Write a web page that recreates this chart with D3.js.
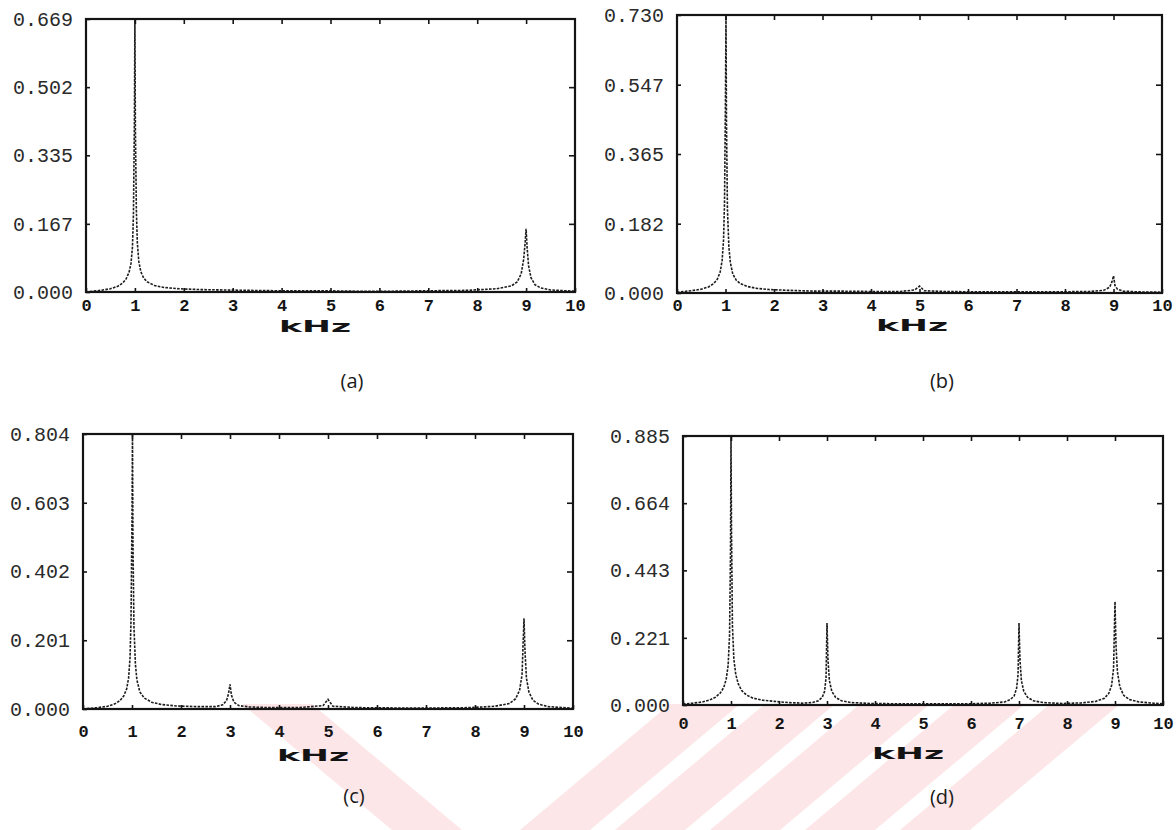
<!DOCTYPE html>
<html>
<head>
<meta charset="utf-8">
<script src="https://cdn.jsdelivr.net/npm/d3@7"></script>
<style>
  html, body { margin: 0; padding: 0; background: #fff; }
  svg { display: block; }
</style>
</head>
<body>
<svg id="fig" width="1176" height="830"></svg>
<script>
// Magnitude spectra of four signals, frequency axis in kHz.
const xTickLabels = ["0", "1", "2", "3", "4", "5", "6", "7", "8", "9", "10"];

// (a)
const yLabelsA = ["0.000", "0.167", "0.335", "0.502", "0.669"];
const freqA = [0.0, 0.3, 0.5, 0.65, 0.75, 0.82, 0.88, 0.92, 0.95, 0.97,
  0.99, 1.0, 1.01, 1.03, 1.05, 1.08, 1.12, 1.18, 1.25, 1.4,
  1.6, 1.9, 2.3, 2.8, 3.3, 4.0, 4.8, 5.5, 6.3, 7.0,
  7.8, 8.4, 8.7, 8.82, 8.9, 8.95, 8.98, 9.0, 9.02, 9.05,
  9.1, 9.18, 9.3, 9.5, 9.8, 10.0];
const ampA = [0.000, 0.004, 0.008, 0.014, 0.022, 0.032, 0.048, 0.070, 0.110, 0.190,
  0.420, 0.669, 0.400, 0.200, 0.120, 0.075, 0.050, 0.034, 0.025, 0.016,
  0.011, 0.008, 0.006, 0.005, 0.004, 0.003, 0.003, 0.002, 0.002, 0.003,
  0.004, 0.008, 0.015, 0.025, 0.045, 0.080, 0.120, 0.155, 0.110, 0.065,
  0.035, 0.018, 0.010, 0.005, 0.003, 0.002];

// (b)
const yLabelsB = ["0.000", "0.182", "0.365", "0.547", "0.730"];
const freqB = [0.0, 0.3, 0.5, 0.65, 0.75, 0.83, 0.89, 0.93, 0.96, 0.98,
  1.0, 1.01, 1.02, 1.04, 1.07, 1.1, 1.15, 1.22, 1.3, 1.45,
  1.65, 1.9, 2.3, 2.8, 3.3, 4.0, 4.6, 4.9, 5.0, 5.1,
  5.5, 6.2, 7.0, 7.8, 8.5, 8.8, 8.92, 8.97, 9.0, 9.03,
  9.08, 9.2, 9.5, 10.0];
const ampB = [0.002, 0.006, 0.010, 0.016, 0.024, 0.036, 0.055, 0.085, 0.140, 0.240,
  0.520, 0.730, 0.450, 0.220, 0.120, 0.080, 0.050, 0.034, 0.025, 0.017,
  0.012, 0.009, 0.007, 0.005, 0.005, 0.004, 0.004, 0.008, 0.018, 0.006,
  0.004, 0.003, 0.003, 0.003, 0.004, 0.007, 0.015, 0.030, 0.045, 0.020,
  0.010, 0.005, 0.003, 0.002];

// (c)
const yLabelsC = ["0.000", "0.201", "0.402", "0.603", "0.804"];
const freqC = [0.0, 0.3, 0.5, 0.65, 0.75, 0.83, 0.89, 0.93, 0.96, 0.98,
  1.0, 1.01, 1.02, 1.04, 1.07, 1.1, 1.16, 1.25, 1.4, 1.6,
  1.9, 2.3, 2.7, 2.85, 2.93, 2.97, 3.0, 3.03, 3.08, 3.18,
  3.4, 3.8, 4.4, 4.9, 5.0, 5.1, 5.6, 6.4, 7.2, 7.9,
  8.4, 8.7, 8.83, 8.91, 8.96, 9.0, 9.02, 9.05, 9.1, 9.18,
  9.3, 9.5, 9.8, 10.0];
const ampC = [0.000, 0.004, 0.008, 0.015, 0.024, 0.038, 0.058, 0.090, 0.150, 0.260,
  0.560, 0.804, 0.480, 0.240, 0.130, 0.085, 0.050, 0.032, 0.020, 0.013,
  0.009, 0.007, 0.007, 0.012, 0.025, 0.045, 0.072, 0.040, 0.020, 0.010,
  0.006, 0.004, 0.004, 0.010, 0.028, 0.008, 0.004, 0.003, 0.003, 0.004,
  0.008, 0.016, 0.030, 0.055, 0.100, 0.265, 0.170, 0.090, 0.050, 0.026,
  0.014, 0.007, 0.004, 0.002];

// (d)
const yLabelsD = ["0.000", "0.221", "0.443", "0.664", "0.885"];
const freqD = [0.0, 0.2, 0.4, 0.55, 0.68, 0.78, 0.85, 0.9, 0.94, 0.97,
  0.99, 1.0, 1.01, 1.03, 1.06, 1.1, 1.15, 1.22, 1.32, 1.45,
  1.65, 1.9, 2.2, 2.5, 2.7, 2.82, 2.9, 2.95, 2.98, 3.0,
  3.02, 3.05, 3.1, 3.18, 3.3, 3.5, 3.9, 4.5, 5.0, 5.5,
  6.0, 6.4, 6.7, 6.82, 6.9, 6.95, 6.98, 7.0, 7.02, 7.05,
  7.1, 7.18, 7.3, 7.5, 7.9, 8.3, 8.6, 8.78, 8.87, 8.93,
  8.97, 9.0, 9.02, 9.05, 9.1, 9.18, 9.3, 9.5, 9.8, 10.0];
const ampD = [0.003, 0.006, 0.010, 0.016, 0.026, 0.040, 0.058, 0.085, 0.130, 0.230,
  0.500, 0.885, 0.580, 0.260, 0.150, 0.100, 0.070, 0.048, 0.033, 0.023,
  0.016, 0.012, 0.008, 0.006, 0.008, 0.014, 0.025, 0.045, 0.090, 0.270,
  0.150, 0.080, 0.045, 0.025, 0.014, 0.008, 0.005, 0.004, 0.004, 0.004,
  0.004, 0.006, 0.010, 0.018, 0.030, 0.055, 0.100, 0.270, 0.150, 0.080,
  0.045, 0.025, 0.014, 0.008, 0.005, 0.007, 0.012, 0.022, 0.038, 0.065,
  0.120, 0.340, 0.200, 0.110, 0.060, 0.032, 0.018, 0.010, 0.006, 0.004];

const unitLabel = "kHz";
const captions = ["(a)", "(b)", "(c)", "(d)"];

// Frame geometry for each of the four plots.
const panels = [
  { freq: freqA, amp: ampA, yLabels: yLabelsA, caption: captions[0],
    x0: 86, x1: 575, y0: 19, y1: 292, xLabY: 305, unitX: 315, unitY: 326, capX: 352, capY: 381 },
  { freq: freqB, amp: ampB, yLabels: yLabelsB, caption: captions[1],
    x0: 677, x1: 1162, y0: 15, y1: 293, xLabY: 305, unitX: 912, unitY: 325, capX: 942, capY: 381 },
  { freq: freqC, amp: ampC, yLabels: yLabelsC, caption: captions[2],
    x0: 83, x1: 573, y0: 434, y1: 709, xLabY: 731, unitX: 313, unitY: 755, capX: 354, capY: 796 },
  { freq: freqD, amp: ampD, yLabels: yLabelsD, caption: captions[3],
    x0: 683, x1: 1163, y0: 436, y1: 705, xLabY: 723, unitX: 908, unitY: 753, capX: 942, capY: 797 }
];

const svg = d3.select("#fig");
const ink = "#141414";
const monoFont = "'Liberation Mono', 'DejaVu Sans Mono', monospace";

// pale paper watermark along the bottom strip
const wm = svg.append("g").attr("fill", "#fce6e8");
const band = (xb, w, rising) => {
  const top = 704, bot = 830, run = 150;
  const xt = rising ? xb + run : xb - run;
  return `M${xb},${bot}L${xb + w},${bot}L${xt + w},${top}L${xt},${top}Z`;
};
wm.append("path").attr("d", band(392, 70, false));
[520, 615, 710, 805, 900].forEach(xb => wm.append("path").attr("d", band(xb, 70, true)));

panels.forEach(p => {
  const yVals = p.yLabels.map(Number);
  const x = d3.scaleLinear().domain([0, 10]).range([p.x0, p.x1]);
  const y = d3.scaleLinear().domain([0, yVals[yVals.length - 1]]).range([p.y1, p.y0]);
  const xVals = xTickLabels.map(Number);

  const g = svg.append("g");

  // spectrum trace, printed as a dotted line
  const line = d3.line().x((d, i) => x(p.freq[i])).y(d => y(d));
  g.append("path")
    .datum(p.amp)
    .attr("d", line)
    .attr("fill", "none")
    .attr("stroke", "#1c1c1c")
    .attr("stroke-width", 1.6)
    .attr("stroke-dasharray", "2.6 1.3");

  // bottom axis: inward ticks and numeric labels
  const bottom = g.append("g")
    .attr("transform", `translate(0,${p.y1})`)
    .call(d3.axisBottom(x).tickValues(xVals).tickSize(-4)
      .tickFormat((d, i) => xTickLabels[i]));
  bottom.selectAll("text")
    .attr("y", p.xLabY - p.y1)
    .attr("dy", "0.35em")
    .attr("font-family", monoFont)
    .attr("font-weight", "bold")
    .attr("font-size", 17)
    .attr("fill", ink);

  // top axis: ticks only
  g.append("g")
    .attr("transform", `translate(0,${p.y0})`)
    .call(d3.axisTop(x).tickValues(xVals.slice(1, -1)).tickSize(-5).tickFormat(""));

  // left axis with amplitude labels
  const left = g.append("g")
    .attr("transform", `translate(${p.x0},0)`)
    .call(d3.axisLeft(y).tickValues(yVals).tickSize(-4).tickPadding(13)
      .tickFormat((d, i) => p.yLabels[i]));
  left.selectAll("text")
    .attr("font-family", monoFont)
    .attr("font-size", 20)
    .attr("fill", "#2a2a2a");

  // right axis: ticks only
  g.append("g")
    .attr("transform", `translate(${p.x1},0)`)
    .call(d3.axisRight(y).tickValues(yVals.slice(1, -1)).tickSize(-6).tickFormat(""));

  g.selectAll(".domain").remove();
  g.selectAll(".tick line").attr("stroke", ink).attr("stroke-width", 1.6);

  // plot frame
  g.append("rect")
    .attr("x", p.x0).attr("y", p.y0)
    .attr("width", p.x1 - p.x0).attr("height", p.y1 - p.y0)
    .attr("fill", "none")
    .attr("stroke", ink)
    .attr("stroke-width", 2.2);

  // unit label
  g.append("text")
    .attr("x", p.unitX).attr("y", p.unitY)
    .attr("dy", "0.35em")
    .attr("text-anchor", "middle")
    .attr("font-family", "'DejaVu Sans', sans-serif")
    .attr("font-weight", "bold")
    .attr("font-size", 16)
    .attr("textLength", 72)
    .attr("lengthAdjust", "spacingAndGlyphs")
    .attr("fill", ink)
    .text(unitLabel);

  // panel caption
  g.append("text")
    .attr("x", p.capX).attr("y", p.capY)
    .attr("dy", "0.35em")
    .attr("text-anchor", "middle")
    .attr("font-family", "'Open Sans', sans-serif")
    .attr("font-size", 20)
    .attr("fill", "#1a1a1a")
    .text(p.caption);
});
</script>
</body>
</html>
